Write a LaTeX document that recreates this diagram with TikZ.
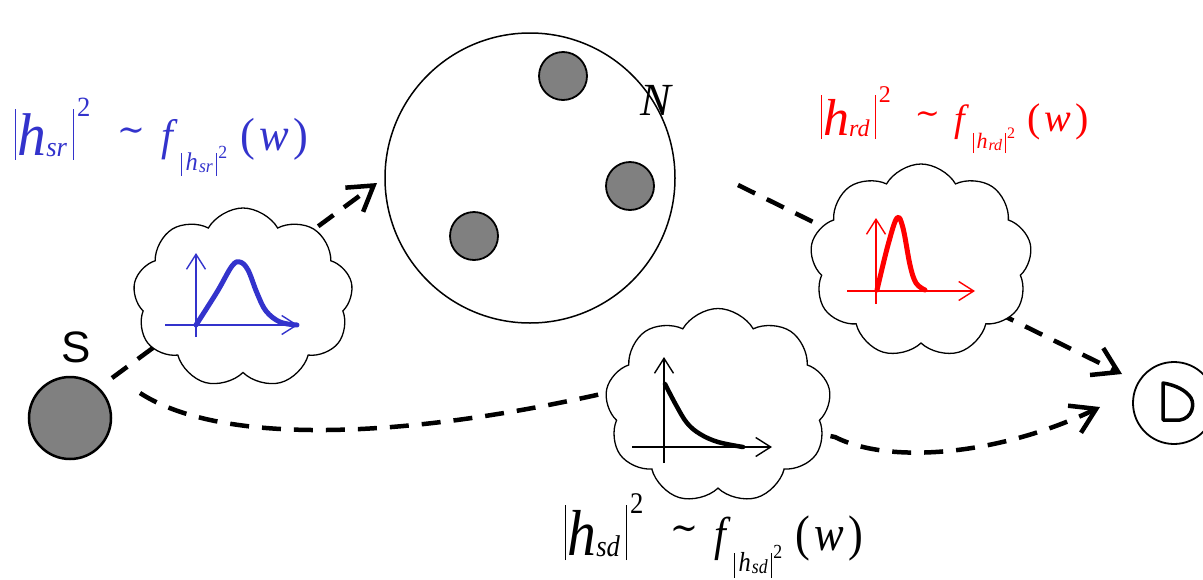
\documentclass[tikz,border=0pt]{standalone}
\usepackage{fontspec}
\usepackage{graphicx}
\setmainfont{Liberation Serif}
\newfontfamily\dejaserif{DejaVu Serif}
\newfontfamily\arialfont{Liberation Sans}
\newfontfamily\timesit{Liberation Serif Italic}
\usetikzlibrary{shapes.symbols,arrows.meta}
\definecolor{chblue}{RGB}{51,51,204}
\definecolor{nodegray}{RGB}{128,128,128}
\newcommand\chanf[1]{%
\rule[-4pt]{1.2pt}{44pt}\kern1pt
{\fontsize{52}{52}\selectfont\timesit h}%
\raisebox{-1pt}{\fontsize{24}{24}\selectfont\timesit #1}\kern5pt
\rule[-4pt]{1.2pt}{44pt}\kern3pt
\raisebox{33pt}{\fontsize{24}{24}\selectfont 2}\kern24pt
\raisebox{12pt}{\fontsize{30}{30}\selectfont\dejaserif\char"223C}\kern15pt
\raisebox{4pt}{\fontsize{38}{38}\selectfont\timesit f}\kern7pt
\raisebox{-13pt}{\rule[-5pt]{1pt}{20pt}\kern3pt{\fontsize{22}{22}\selectfont\timesit h}\kern1pt\raisebox{-2pt}{\fontsize{16}{16}\selectfont\timesit #1}\kern3pt\rule[-5pt]{1pt}{20pt}\kern1pt\raisebox{10pt}{\fontsize{16}{16}\selectfont 2}}\kern12pt
\raisebox{4pt}{\fontsize{40}{40}\selectfont(\kern4pt{\timesit w}\kern4pt)}}
\tikzset{
  conn/.style={line width=4.5pt, dash pattern=on 19pt off 13pt, -{Straight Barb[length=24pt,width=30pt]}},
  cloudbox/.style={cloud, cloud puffs=9, cloud puff arc=120, cloud ignores aspect, draw=black, fill=white, line width=1.3pt, inner sep=0pt},
  axis/.style={line width=1.4pt, -{Straight Barb[length=15pt,width=19pt]}},
  curve/.style={line width=5pt, line cap=round, line join=round},
  graynode/.style={circle, draw=black, fill=nodegray, inner sep=0pt},
  formula/.style={anchor=base west, inner sep=0pt, outer sep=0pt}
}
\begin{document}
\begin{tikzpicture}[x=1pt,y=-1pt]
\useasboundingbox (0,0) rectangle (1203,579);
% nodes
\node[circle, draw=black, line width=1.5pt, minimum size=290pt, inner sep=0pt] (N) at (530,178) {};
\node[graynode, line width=1.8pt, minimum size=48pt] (n1) at (563,76) {};
\node[graynode, line width=1.8pt, minimum size=48pt] (n2) at (630,186) {};
\node[graynode, line width=1.8pt, minimum size=48pt] (n3) at (474,236) {};
\node[font=\fontsize{46}{46}\selectfont\timesit, inner sep=0pt] (Nlabel) at (656,100) {N};
\node[graynode, line width=2.5pt, minimum size=82pt] (S) at (70,418) {};
\node[font=\arialfont\fontsize{44}{44}\selectfont, inner sep=0pt] (Slabel) at (76,347) {S};
\node[circle, draw=black, line width=1.8pt, minimum size=82pt, inner sep=0pt] (D) at (1174,403) {};
\draw[line width=3.5pt, line join=round, line cap=round] (1163,383) -- (1163,420) -- (1180,420) .. controls (1192,418) and (1195,405) .. (1191,398) .. controls (1186,390) and (1175,385) .. cycle;
% connector end points
\coordinate (sN) at (112,378);
\coordinate (tN) at (377,183);
\coordinate (nD) at (738,185);
\coordinate (tD1) at (1122,374);
\coordinate (sD) at (140,393);
\coordinate (mD1) at (610,392);
\coordinate (mD2) at (835,437);
\coordinate (tD2) at (1100,407);
% connectors
\draw[conn] (sN) -- (tN);
\draw[conn] (nD) -- (tD1);
\draw[conn] (sD) .. controls (220,445) and (400,440) .. (mD1) -- (mD2) .. controls (890,465) and (1000,455) .. (tD2);
% clouds
\node[cloudbox, minimum width=220pt, minimum height=180pt] (c1) at (243,298) {};
\node[cloudbox, minimum width=222pt, minimum height=194pt] (c2) at (921,261) {};
\node[cloudbox, minimum width=226pt, minimum height=195pt] (c3) at (718,406) {};
% plots
\begin{scope}[chblue]
\draw[axis] (165,325) -- (298,325);
\draw[axis] (196,337) -- (196,253);
\draw[curve] plot[smooth, tension=0.6] coordinates {(196,325) (217,292) (232,266) (240,262) (248,270) (257,293) (266,311) (280,322) (297,325)};
\end{scope}
\begin{scope}[red]
\draw[axis] (847,291) -- (975,291);
\draw[axis] (876,304) -- (876,218);
\draw[curve] plot[smooth, tension=0.6] coordinates {(877,290) (888,245) (897,218) (903,228) (910,265) (916,283) (925,290)};
\end{scope}
\begin{scope}[black]
\draw[axis] (632,447) -- (772,447);
\draw[axis] (664,463) -- (664,357);
\draw[curve, line width=4.5pt] plot[smooth, tension=0.6] coordinates {(665,384) (676,405) (687,423) (700,434) (718,442) (743,447)};
\end{scope}
% formulas
\node[formula, text=chblue] (fsr) at (15,155) {\scalebox{1.11}[1.16]{\chanf{sr}}};
\node[formula, text=red] (frd) at (821,135) {\chanf{rd}};
\node[formula, text=black] (fsd) at (565,555) {\scalebox{1.11}[1.25]{\chanf{sd}}};
\end{tikzpicture}
\end{document}
